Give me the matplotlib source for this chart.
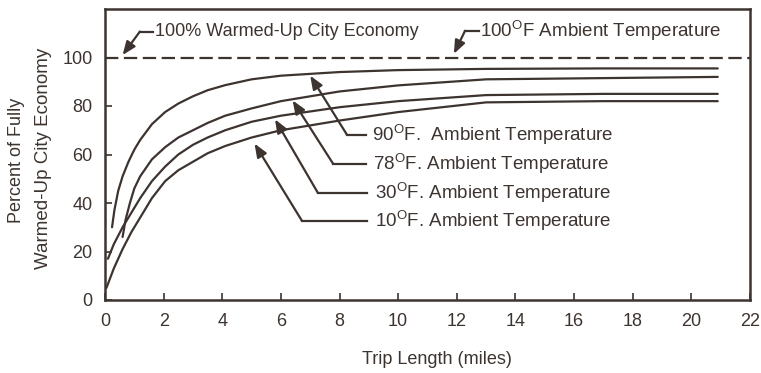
import numpy as np
import matplotlib
matplotlib.use("Agg")
import matplotlib.pyplot as plt

plt.rcParams['font.family'] = ['Liberation Sans', 'DejaVu Sans']
plt.rcParams['mathtext.fontset'] = 'custom'
plt.rcParams['mathtext.rm'] = 'Liberation Sans'

ink = '#3d3430'

# trip length (miles) vs percent of warmed-up city economy
x_90 = [0.24, 0.32, 0.45, 0.6, 0.8, 1.0, 1.2, 1.6, 2.05, 2.5, 3.0, 3.5, 4.1, 5.0, 6.0, 8.0, 10.0, 13.0, 17.0, 20.9]
y_90 = [30, 37, 45, 51, 57, 62, 66, 72.5, 77.5, 81, 84, 86.5, 88.6, 91, 92.5, 94, 94.8, 95.3, 95.5, 95.5]

x_78 = [0.6, 0.7, 0.85, 1.0, 1.2, 1.6, 2.05, 2.5, 3.0, 3.5, 4.1, 5.0, 6.0, 8.0, 10.0, 13.0, 17.0, 20.9]
y_78 = [26, 33, 40, 46, 51, 58, 63, 67, 70, 73, 76, 79, 82, 86, 88.5, 91, 91.5, 92]

x_30 = [0.1, 0.3, 0.6, 0.9, 1.2, 1.6, 2.05, 2.5, 3.0, 3.5, 4.1, 5.0, 6.0, 8.0, 10.0, 13.0, 17.0, 20.9]
y_30 = [17, 23, 30, 36, 42, 49, 55, 60, 64, 67, 70, 73.5, 76, 79.5, 82, 84.5, 85, 85]

x_10 = [0.05, 0.3, 0.6, 0.9, 1.2, 1.6, 2.05, 2.5, 3.0, 3.5, 4.1, 5.0, 6.0, 8.0, 10.0, 13.0, 17.0, 20.9]
y_10 = [5, 13, 21, 28, 34, 42, 49, 53.5, 57, 60.5, 63.5, 67, 70, 74, 77.5, 81.5, 82, 82]

full_economy = 100

fig = plt.figure(figsize=(7.61, 3.73), dpi=100)
ax = fig.add_axes([105 / 761, 1 - 300 / 373, 645 / 761, 291 / 373])

for xs, ys in [(x_90, y_90), (x_78, y_78), (x_30, y_30), (x_10, y_10)]:
    ax.plot(xs, ys, '-', color=ink, linewidth=1.6, solid_capstyle='round',
            solid_joinstyle='round')

ax.axhline(full_economy, color=ink, linewidth=1.6, linestyle=(0, (6, 2.5)))

ax.set_xlim(0, 22)
ax.set_ylim(0, 120)
ax.set_xticks(np.arange(0, 23, 2))
ax.set_yticks(np.arange(0, 101, 20))
ax.tick_params(direction='in', length=5, width=1.2, color=ink,
               labelsize=13, labelcolor=ink)
ax.tick_params(axis='y', pad=9)
ax.tick_params(axis='x', pad=9)
for s in ax.spines.values():
    s.set_linewidth(1.8)
    s.set_color(ink)


def callout(text, tip, elbow, lead_end, text_x, size=13.5):
    ax.annotate('', xy=tip, xytext=elbow,
                arrowprops=dict(arrowstyle='-|>,head_length=0.8,head_width=0.32',
                                color=ink, lw=1.6, shrinkA=0, shrinkB=0))
    ax.plot([elbow[0], lead_end], [elbow[1], elbow[1]], color=ink, lw=1.6)
    ax.text(text_x, elbow[1], text, ha='left', va='center', fontsize=size, color=ink)


callout('100% Warmed-Up City Economy', (0.6, 101), (1.19, 110.7), 1.65, 1.7, size=13)
callout('100$^{\\mathrm{O}}$F Ambient Temperature', (11.9, 101.5), (12.28, 111), 12.75, 12.8)
callout('90$^{\\mathrm{O}}$F.  Ambient Temperature', (7.0, 92.5), (8.25, 68.2), 8.9, 9.1)
callout('78$^{\\mathrm{O}}$F. Ambient Temperature', (6.4, 82.3), (7.78, 56.2), 8.9, 9.15)
callout('30$^{\\mathrm{O}}$F. Ambient Temperature', (5.8, 74.5), (7.26, 44.2), 8.95, 9.2)
callout('10$^{\\mathrm{O}}$F. Ambient Temperature', (5.1, 64.5), (6.72, 32.6), 8.95, 9.2)

fig.text(17 / 761, 1 - 160 / 373, 'Percent of Fully', rotation=90,
         ha='center', va='center', fontsize=13, color=ink)
fig.text(44 / 761, 1 - 158 / 373, 'Warmed-Up City Economy', rotation=90,
         ha='center', va='center', fontsize=13.5, color=ink)
fig.text(437 / 761, 1 - 360 / 373, 'Trip Length (miles)',
         ha='center', va='center', fontsize=13, color=ink)

fig.savefig('out.png', dpi=100, facecolor='white')
